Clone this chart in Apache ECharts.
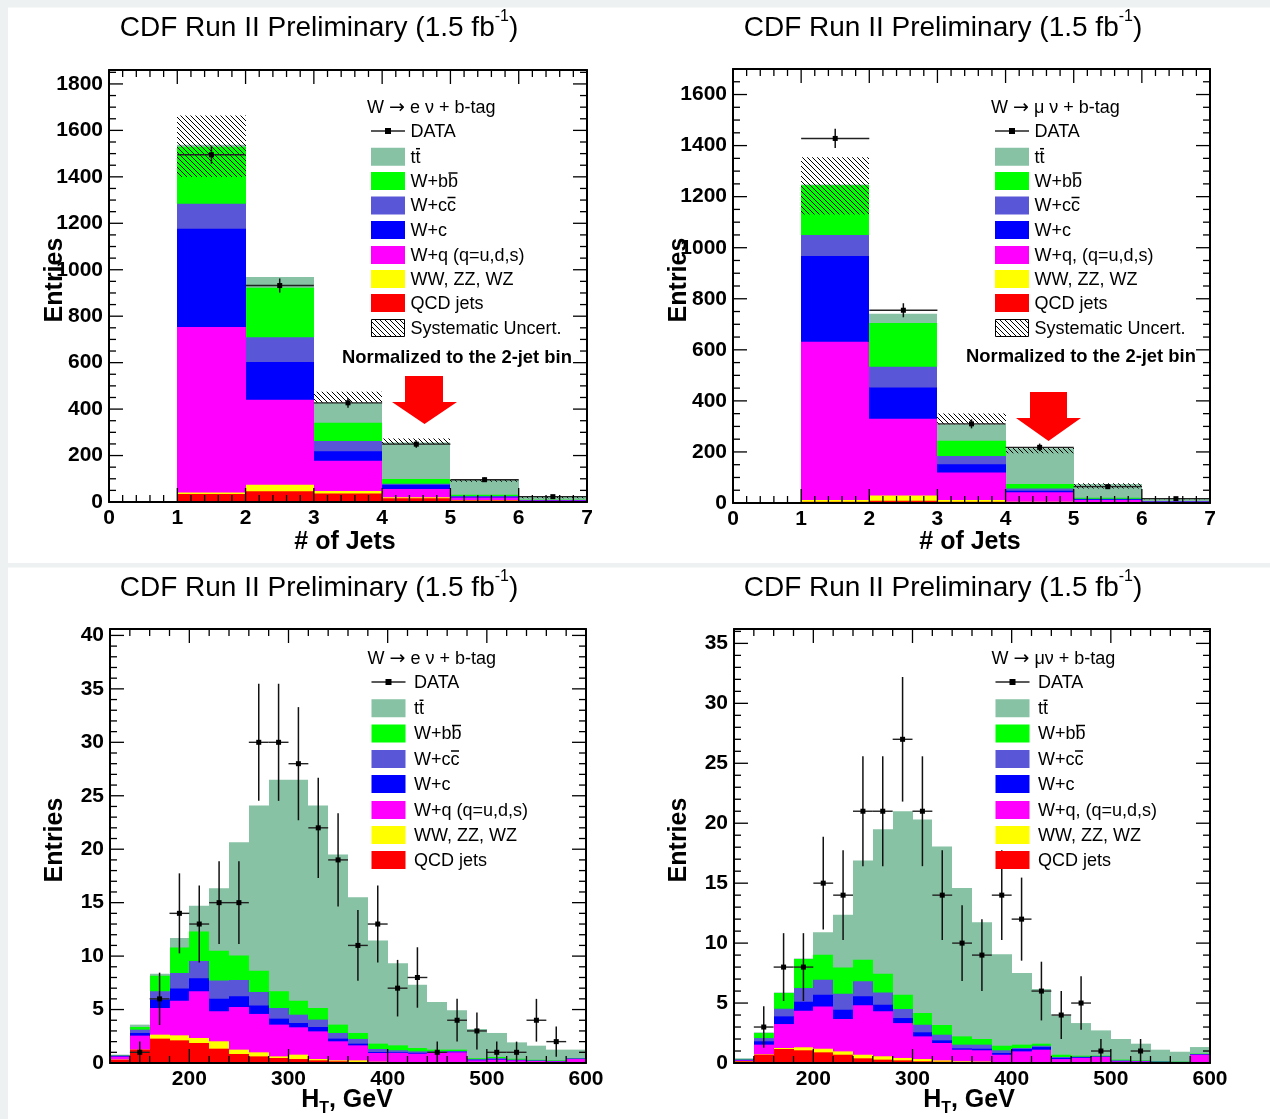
<!DOCTYPE html>
<html><head><meta charset="utf-8">
<script src="https://cdn.jsdelivr.net/npm/echarts@6/dist/echarts.min.js"></script>
<style>html,body{margin:0;padding:0;background:#fff;}#c{width:1270px;height:1119px;}</style>
</head><body><div id="c"></div>
<script>
// ================= DATA =================
const jetEdges = [0, 1, 2, 3, 4, 5, 6, 7];
const htEdges = [120,140,160,180,200,220,240,260,280,300,320,340,360,380,400,420,440,460,480,500,520,540,560,580,600];

// W -> e nu, # of jets (per bin contents)
const eJet_QCD = [0, 34, 46, 37, 16, 6, 2];
const eJet_VV  = [0, 7, 28, 10, 4, 1, 0];
const eJet_Wq  = [0, 713, 366, 131, 36, 12, 4];
const eJet_Wc  = [0, 423, 163, 40, 18, 4, 1];
const eJet_Wcc = [0, 107, 106, 45, 5, 3, 1];
const eJet_Wbb = [0, 246, 214, 78, 20, 5, 2];
const eJet_tt  = [0, 8, 46, 86, 157, 65, 11];
const eJet_data = [0, 1495, 932, 427, 249, 96, 23];
const eJet_sysLow  = [null, 1399, null, 427, 249, 87, 16];
const eJet_sysHigh = [null, 1664, null, 475, 273, 99, 26];

// W -> mu nu, # of jets
const muJet_QCD = [0, 5, 9, 5, 3, 2, 0];
const muJet_VV  = [0, 7, 20, 7, 2, 1, 0];
const muJet_Wq  = [0, 620, 301, 107, 37, 9, 5];
const muJet_Wc  = [0, 336, 122, 33, 6, 3, 1];
const muJet_Wcc = [0, 82, 82, 32, 9, 2, 1];
const muJet_Wbb = [0, 195, 171, 60, 17, 4, 1];
const muJet_tt  = [0, 3, 36, 64, 140, 53, 9];
const muJet_data = [0, 1428, 755, 310, 218, 64, 17];
const muJet_sysLow  = [null, 1130, null, 308, 195, 57, 15];
const muJet_sysHigh = [null, 1354, null, 351, 218, 77, 19];

// W -> e nu, H_T
const eHt_QCD = [0.30,1.25,2.28,2.12,1.87,1.34,0.84,0.62,0.47,0.37,0.25,0.16,0.10,0.06,0.03,0.03,0.02,0.02,0.02,0.02,0.01,0.01,0.01,0.01];
const eHt_VV  = [0.02,0.00,0.37,0.47,0.47,0.69,0.41,0.38,0.15,0.41,0.12,0.09,0.15,0.06,0.03,0.02,0.02,0.02,0.01,0.01,0.01,0.01,0.01,0.01];
const eHt_Wq  = [0.28,1.31,2.50,3.24,4.37,2.81,3.99,3.59,2.97,2.56,2.59,1.78,1.40,0.82,0.88,0.82,0.90,0.96,0.22,0.28,0.23,0.17,0.14,0.35];
const eHt_Wc  = [0.05,0.25,0.78,1.13,1.22,1.18,1.00,0.78,0.56,0.40,0.41,0.25,0.16,0.09,0.06,0.08,0.04,0.05,0.05,0.05,0.03,0.02,0.02,0.03];
const eHt_Wcc = [0.07,0.31,0.78,1.46,1.62,1.69,1.53,1.28,1.00,0.78,0.69,0.53,0.44,0.28,0.19,0.14,0.11,0.07,0.06,0.09,0.04,0.03,0.02,0.04];
const eHt_Wbb = [0.02,0.25,1.46,2.38,2.75,2.79,2.28,1.99,1.56,1.31,1.09,0.78,0.56,0.50,0.46,0.31,0.16,0.13,0.08,0.11,0.08,0.06,0.05,0.03];
const eHt_tt  = [0.04,0.22,0.19,0.90,2.40,5.85,10.60,15.46,19.79,20.67,18.95,15.91,12.69,9.64,7.68,5.93,4.46,3.68,2.74,2.25,1.53,1.32,1.00,0.78];
const eHt_data = [0,1,6,14,13,15,15,30,30,28,22,19,11,13,7,8,1,4,3,1,1,4,2,0];

// W -> mu nu, H_T
const muHt_QCD = [0.14,0.69,1.17,1.06,0.89,0.69,0.39,0.28,0.22,0.14,0.11,0.07,0.05,0.03,0.03,0.02,0.02,0.01,0.01,0.01,0.01,0.01,0.01,0.01];
const muHt_VV  = [0.02,0.03,0.08,0.25,0.30,0.28,0.30,0.28,0.20,0.19,0.11,0.07,0.07,0.03,0.02,0.02,0.01,0.01,0.01,0.01,0.01,0.00,0.00,0.00];
const muHt_Wq  = [0.06,0.81,2.00,3.05,3.53,2.70,4.12,3.75,2.91,1.89,1.45,0.97,0.94,0.63,0.92,1.07,0.30,0.40,0.48,0.12,0.12,0.07,0.05,0.68];
const muHt_Wc  = [0.04,0.28,0.64,0.75,0.97,0.77,0.75,0.55,0.42,0.34,0.22,0.11,0.13,0.14,0.20,0.22,0.09,0.06,0.03,0.03,0.02,0.02,0.02,0.03];
const muHt_Wcc = [0.04,0.27,0.64,1.14,1.25,1.34,1.25,1.03,0.75,0.63,0.47,0.31,0.34,0.23,0.08,0.11,0.08,0.05,0.03,0.05,0.02,0.02,0.02,0.02];
const muHt_Wbb = [0.03,0.42,1.30,2.42,2.09,2.19,1.80,1.55,1.19,0.98,0.81,0.69,0.47,0.38,0.28,0.17,0.19,0.08,0.05,0.06,0.04,0.03,0.02,0.04];
const muHt_tt  = [0.06,0.05,0.06,0.05,1.87,4.39,8.29,12.06,15.31,16.13,14.89,12.38,9.75,7.64,5.97,4.56,3.25,2.72,2.11,1.72,1.39,0.96,0.82,0.55];
const muHt_data = [0,3,8,8,15,14,21,21,27,21,14,10,9,14,12,6,4,5,1,0,1,0,0,0];

// tick labels
const jetXTicks = [0, 1, 2, 3, 4, 5, 6, 7];
const eJetYTicks = [0, 200, 400, 600, 800, 1000, 1200, 1400, 1600, 1800];
const muJetYTicks = [0, 200, 400, 600, 800, 1000, 1200, 1400, 1600];
const htXTicks = [200, 300, 400, 500, 600];
const eHtYTicks = [0, 5, 10, 15, 20, 25, 30, 35, 40];
const muHtYTicks = [0, 5, 10, 15, 20, 25, 30, 35];

const titleText = 'CDF Run II Preliminary (1.5 fb';
const legendLabels = ['DATA', 'tt', 'W+bb', 'W+cc', 'W+c', 'W+q (q=u,d,s)', 'WW, ZZ, WZ', 'QCD jets', 'Systematic Uncert.'];
const legendLabelsMu = ['DATA', 'tt', 'W+bb', 'W+cc', 'W+c', 'W+q, (q=u,d,s)', 'WW, ZZ, WZ', 'QCD jets', 'Systematic Uncert.'];

// ================= STYLE / LAYOUT =================
const FF = "'Liberation Sans', Arial, Helvetica, sans-serif";
const colors = {QCD:'#ff0000', VV:'#ffff00', Wq:'#ff00ff', Wc:'#0000ff', Wcc:'#5a56d8', Wbb:'#00ff00', tt:'#86c2a3'};
const stackOrder = ['QCD','VV','Wq','Wc','Wcc','Wbb','tt'];

function range(a, b, s){ const r=[]; for(let v=a; v<=b+1e-9; v+=s) r.push(+v.toFixed(6)); return r; }

const panels = [
  {grid:{left:109, top:70, width:478, height:432}, xMin:0, xMax:7, yMin:0, yMax:1860, edges:jetEdges,
   comps:{QCD:eJet_QCD,VV:eJet_VV,Wq:eJet_Wq,Wc:eJet_Wc,Wcc:eJet_Wcc,Wbb:eJet_Wbb,tt:eJet_tt}, data:eJet_data,
   sysLow:eJet_sysLow, sysHigh:eJet_sysHigh, xTicks:jetXTicks, yTicks:eJetYTicks, xMinorStep:0.2, yMinorStep:50},
  {grid:{left:733, top:69, width:477, height:434}, xMin:0, xMax:7, yMin:0, yMax:1700, edges:jetEdges,
   comps:{QCD:muJet_QCD,VV:muJet_VV,Wq:muJet_Wq,Wc:muJet_Wc,Wcc:muJet_Wcc,Wbb:muJet_Wbb,tt:muJet_tt}, data:muJet_data,
   sysLow:muJet_sysLow, sysHigh:muJet_sysHigh, xTicks:jetXTicks, yTicks:muJetYTicks, xMinorStep:0.2, yMinorStep:50},
  {grid:{left:110, top:629, width:476, height:434}, xMin:120, xMax:600, yMin:0, yMax:40.6, edges:htEdges,
   comps:{QCD:eHt_QCD,VV:eHt_VV,Wq:eHt_Wq,Wc:eHt_Wc,Wcc:eHt_Wcc,Wbb:eHt_Wbb,tt:eHt_tt}, data:eHt_data,
   sysLow:null, sysHigh:null, xTicks:htXTicks, yTicks:eHtYTicks, xMinorStep:20, yMinorStep:1},
  {grid:{left:734, top:629, width:476, height:434}, xMin:120, xMax:600, yMin:0, yMax:36.2, edges:htEdges,
   comps:{QCD:muHt_QCD,VV:muHt_VV,Wq:muHt_Wq,Wc:muHt_Wc,Wcc:muHt_Wcc,Wbb:muHt_Wbb,tt:muHt_tt}, data:muHt_data,
   sysLow:null, sysHigh:null, xTicks:htXTicks, yTicks:muHtYTicks, xMinorStep:20, yMinorStep:1}
];

// hatch pattern
function makeHatch(){
  const s = 5, c = document.createElement('canvas'); c.width = s; c.height = s;
  const g = c.getContext('2d'); g.strokeStyle = '#000'; g.lineWidth = 1;
  g.beginPath(); g.moveTo(0,0); g.lineTo(s,s); g.moveTo(-1,s-1); g.lineTo(1,s+1); g.moveTo(s-1,-1); g.lineTo(s+1,1); g.stroke();
  return c;
}
const hatch = {image: makeHatch(), repeat: 'repeat'};

const grids = [], xAxes = [], yAxes = [], series = [];
panels.forEach((p, k) => {
  grids.push(Object.assign({containLabel:false}, p.grid));
  p.xi = 2*k; p.yi = 2*k;
  const lineStyle = {color:'#000', width:2};
  const lab = {color:'#000', fontWeight:'bold', fontSize:21, fontFamily:FF};
  xAxes.push({type:'value', gridIndex:k, min:p.xMin, max:p.xMax, position:'bottom', z:20,
    axisLine:{show:true, onZero:false, lineStyle}, axisTick:{show:false}, splitLine:{show:false},
    axisLabel:Object.assign({margin:6, customValues:p.xTicks, formatter:v=>String(v)}, lab)});
  xAxes.push({type:'value', gridIndex:k, min:p.xMin, max:p.xMax, position:'top', z:20,
    axisLine:{show:true, onZero:false, lineStyle}, axisTick:{show:false}, splitLine:{show:false}, axisLabel:{show:false}});
  yAxes.push({type:'value', gridIndex:k, min:p.yMin, max:p.yMax, position:'left', z:20,
    axisLine:{show:true, onZero:false, lineStyle}, axisTick:{show:false}, splitLine:{show:false},
    axisLabel:Object.assign({margin:6, customValues:p.yTicks, formatter:v=>String(v)}, lab)});
  yAxes.push({type:'value', gridIndex:k, min:p.yMin, max:p.yMax, position:'right', z:20,
    axisLine:{show:true, onZero:false, lineStyle}, axisTick:{show:false}, splitLine:{show:false}, axisLabel:{show:false}});

  // stacked histogram (cumulative, drawn from top component down)
  const n = p.edges.length - 1;
  let run = new Array(n).fill(0); const cum = {};
  stackOrder.forEach(key => { run = run.map((v,i) => v + p.comps[key][i]); cum[key] = run.slice(); });
  stackOrder.slice().reverse().forEach((key, idx) => {
    const items = [];
    for (let i = 0; i < n; i++) if (cum[key][i] > 0) items.push([p.edges[i], p.edges[i+1], cum[key][i]]);
    series.push({type:'custom', name:key, xAxisIndex:p.xi, yAxisIndex:p.yi, z:2+idx, clip:true, silent:true,
      data:items, animation:false,
      renderItem(params, api){
        const a = api.coord([api.value(0), api.value(2)]), b = api.coord([api.value(1), p.yMin]);
        const x0 = Math.round(a[0]), x1 = Math.round(b[0]);
        return {type:'rect', shape:{x:x0, y:a[1], width:x1-x0, height:b[1]-a[1]}, style:{fill:colors[key]}};
      }});
  });

  // systematic uncertainty hatch
  if (p.sysLow) {
    const items = [];
    for (let i = 0; i < n; i++) if (p.sysLow[i] != null) items.push([p.edges[i], p.edges[i+1], p.sysLow[i], p.sysHigh[i]]);
    series.push({type:'custom', xAxisIndex:p.xi, yAxisIndex:p.yi, z:10, clip:true, silent:true, data:items, animation:false,
      renderItem(params, api){
        const a = api.coord([api.value(0), api.value(3)]), b = api.coord([api.value(1), api.value(2)]);
        return {type:'rect', shape:{x:Math.round(a[0]), y:a[1], width:Math.round(b[0])-Math.round(a[0]), height:b[1]-a[1]}, style:{fill:hatch}};
      }});
  }

  // data points with errors
  const dItems = [];
  p.data.forEach((v, i) => { if (v > 0) dItems.push([(p.edges[i]+p.edges[i+1])/2, v, p.edges[i], p.edges[i+1], Math.sqrt(v)]); });
  series.push({type:'custom', xAxisIndex:p.xi, yAxisIndex:p.yi, z:12, clip:false, silent:true, data:dItems, animation:false,
    renderItem(params, api){
      const xc = api.value(0), v = api.value(1), x0 = api.value(2), x1 = api.value(3), e = api.value(4);
      const pc = api.coord([xc, v]), pl = api.coord([x0, v]), pr = api.coord([x1, v]);
      const pt = api.coord([xc, v + e]), pb = api.coord([xc, Math.max(v - e, p.yMin)]);
      return {type:'group', children:[
        {type:'line', shape:{x1:pl[0], y1:pc[1], x2:pr[0], y2:pc[1]}, style:{stroke:'#222', lineWidth:1.4}},
        {type:'line', shape:{x1:pc[0], y1:pt[1], x2:pc[0], y2:pb[1]}, style:{stroke:'#111', lineWidth:1.5}},
        {type:'rect', shape:{x:pc[0]-2.5, y:pc[1]-2.5, width:5, height:5}, style:{fill:'#000'}}
      ]};
    }});

  // ticks (major + minor), on all four sides, pointing inward
  const tItems = [];
  p.xTicks.forEach(v => tItems.push([v, 0, 14]));
  p.yTicks.forEach(v => tItems.push([v, 1, 14]));
  range(p.xMin, p.xMax, p.xMinorStep).forEach(v => { if (p.xTicks.indexOf(v) < 0) tItems.push([v, 0, 7]); });
  range(p.yMin, p.yMax, p.yMinorStep).forEach(v => { if (p.yTicks.indexOf(v) < 0) tItems.push([v, 1, 7]); });
  series.push({type:'custom', xAxisIndex:p.xi, yAxisIndex:p.yi, z:30, clip:false, silent:true, data:tItems, animation:false,
    renderItem(params, api){
      const v = api.value(0), kind = api.value(1), L = api.value(2);
      const st = {stroke:'#000', lineWidth:1.3};
      if (kind === 0) {
        const b = api.coord([v, p.yMin]), t = api.coord([v, p.yMax]);
        return {type:'group', children:[
          {type:'line', shape:{x1:b[0], y1:b[1], x2:b[0], y2:b[1]-L}, style:st},
          {type:'line', shape:{x1:t[0], y1:t[1], x2:t[0], y2:t[1]+L}, style:st}]};
      }
      const l = api.coord([p.xMin, v]), r = api.coord([p.xMax, v]);
      return {type:'group', children:[
        {type:'line', shape:{x1:l[0], y1:l[1], x2:l[0]+L, y2:l[1]}, style:st},
        {type:'line', shape:{x1:r[0], y1:r[1], x2:r[0]-L, y2:r[1]}, style:st}]};
    }});
});

// ================= GRAPHICS (titles, labels, legends) =================
const mctx = document.createElement('canvas').getContext('2d');
function tw(s, font){ mctx.font = font; return mctx.measureText(s).width; }
const G = [];
function txt(x, y, text, font, align, extra){
  G.push(Object.assign({type:'text', z:100, style:{x, y, text, font, fill:'#000', align:align||'left', verticalAlign:'middle'}}, extra||{}));
}
// background strips
G.push({type:'rect', z:-10, shape:{x:0, y:0, width:1270, height:7.5}, style:{fill:'#eef1f1'}});
G.push({type:'rect', z:-10, shape:{x:0, y:0, width:8, height:1119}, style:{fill:'#eef1f1'}});
G.push({type:'rect', z:-10, shape:{x:0, y:563, width:1270, height:4.5}, style:{fill:'#eef1f1'}});

// titles
function title(cx, cy){
  const fM = '28px ' + FF, fS = '16px ' + FF;
  const w1 = tw(titleText, fM), w2 = tw('-1', fS), w3 = tw(')', fM);
  const x0 = cx - (w1 + w2 + w3) / 2;
  txt(x0, cy, titleText, fM);
  txt(x0 + w1, cy - 11, '-1', fS);
  txt(x0 + w1 + w2, cy, ')', fM);
}
title(319, 28); title(943, 28); title(319, 588); title(943, 588);

// axis titles
[[55, 280], [679, 280], [55, 840], [679, 840]].forEach(([x, y]) => {
  G.push({type:'text', z:100, x, y, rotation:Math.PI/2, style:{x:0, y:0, text:'Entries', font:'bold 25px ' + FF, fill:'#000', align:'center', verticalAlign:'middle'}});
});
txt(345, 542, '# of Jets', 'bold 25px ' + FF, 'center');
txt(970, 542, '# of Jets', 'bold 25px ' + FF, 'center');
function htTitle(cx, cy){
  const fB = 'bold 25px ' + FF, fS = 'bold 16px ' + FF;
  const w1 = tw('H', fB), w2 = tw('T', fS), w3 = tw(', GeV', fB);
  const x0 = cx - (w1 + w2 + w3) / 2;
  txt(x0, cy, 'H', fB); txt(x0 + w1, cy + 9, 'T', fS); txt(x0 + w1 + w2, cy, ', GeV', fB);
}
htTitle(347, 1100); htTitle(969, 1100);

// legend header: "W", arrow (drawn in DejaVu Sans for a full-size glyph), rest
function header(x, y, rest){
  const f = '18px ' + FF, fa = "19px 'DejaVu Sans', sans-serif";
  const w1 = tw('W ', f), w2 = tw('\u2192', fa);
  txt(x, y, 'W ', f);
  txt(x + w1, y, '\u2192', fa);
  txt(x + w1 + w2, y, rest, f);
}

// legends
const legendKeys = ['data','tt','Wbb','Wcc','Wc','Wq','VV','QCD','sys'];
const overlineIdx = {tt:1, Wbb:3, Wcc:3};
function legend(rest, hx, hy, boxX, textX, rows, labels, withSys){
  const f = '18px ' + FF;
  header(hx, hy, rest);
  const nItems = withSys ? 9 : 8;
  for (let i = 0; i < nItems; i++) {
    const key = legendKeys[i], y = rows[i];
    if (key === 'data') {
      G.push({type:'line', z:100, shape:{x1:boxX, y1:y, x2:boxX+34, y2:y}, style:{stroke:'#222', lineWidth:1.4}});
      G.push({type:'rect', z:101, shape:{x:boxX+17-3, y:y-3, width:6, height:6}, style:{fill:'#000'}});
    } else if (key === 'sys') {
      G.push({type:'rect', z:100, shape:{x:boxX+0.5, y:y-8.5, width:33, height:17}, style:{fill:hatch, stroke:'#000', lineWidth:1}});
    } else {
      G.push({type:'rect', z:100, shape:{x:boxX, y:y-9, width:34, height:18}, style:{fill:colors[key]}});
    }
    const label = labels[i];
    txt(textX, y + 1, label, f);
    if (overlineIdx[key] != null) {
      const a = tw(label.slice(0, overlineIdx[key]), f), b = tw(label.slice(0, overlineIdx[key] + 1), f);
      G.push({type:'line', z:101, shape:{x1:textX + a + 0.5, y1:y - 8, x2:textX + b - 0.5, y2:y - 8}, style:{stroke:'#000', lineWidth:1.5}});
    }
  }
}
const rowsTop = [131, 156.7, 181, 205.5, 230, 255, 279, 303, 328];
const rowsBot = [682, 708.3, 733.5, 759, 784, 810, 835, 860];
legend(' e \u03bd + b-tag', 367, 108, 371, 410.5, rowsTop, legendLabels, true);
legend(' \u03bc \u03bd + b-tag', 991, 108, 995, 1034.5, rowsTop, legendLabelsMu, true);
legend(' e \u03bd + b-tag', 367.5, 659.5, 371.5, 414, rowsBot, legendLabels, false);
legend(' \u03bc\u03bd + b-tag', 991.5, 659.5, 995.5, 1038, rowsBot, legendLabelsMu, false);

// normalization note and arrows
txt(342, 358, 'Normalized to the 2-jet bin', 'bold 18.4px ' + FF);
txt(966, 357, 'Normalized to the 2-jet bin', 'bold 18.4px ' + FF);
G.push({type:'polygon', z:100, shape:{points:[[405,376],[443,376],[443,402],[457,402],[424.5,424],[392,402],[405,402]]}, style:{fill:'#ff0000'}});
G.push({type:'polygon', z:100, shape:{points:[[1030,392],[1067,392],[1067,418],[1081,418],[1048.5,441],[1016,418],[1030,418]]}, style:{fill:'#ff0000'}});

const chart = echarts.init(document.getElementById('c'), null, {renderer:'canvas'});
chart.setOption({
  animation:false,
  backgroundColor:'#ffffff',
  grid:grids, xAxis:xAxes, yAxis:yAxes, series,
  graphic:{elements:G}
});
</script></body></html>
